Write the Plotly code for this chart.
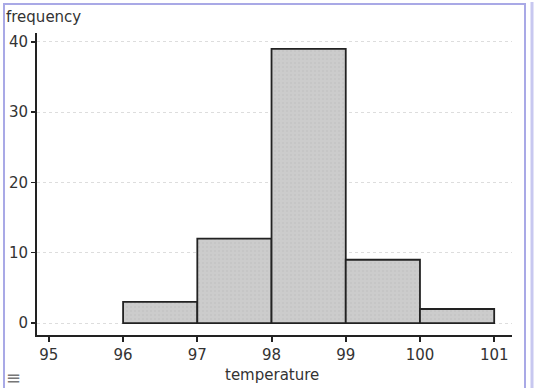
import plotly.graph_objects as go

# Data
bin_starts = [96, 97, 98, 99, 100]
bin_width = 1
counts = [3, 12, 39, 9, 2]
x_ticks = [95, 96, 97, 98, 99, 100, 101]
y_ticks = [0, 10, 20, 30, 40]

W, H = 538, 388
L, R, T, B = 37, 26, 33, 53
pw = W - L - R
ph = H - T - B

centers = [s + bin_width / 2 for s in bin_starts]

fig = go.Figure()
fig.add_trace(go.Bar(
    x=centers, y=counts, width=[bin_width] * len(counts),
    marker=dict(
        color="#cacaca",
        line=dict(color="#222222", width=1.8),
        pattern=dict(shape=".", bgcolor="#cccccc", fgcolor="#bdbdbd", size=4, solidity=0.2),
    ),
    hoverinfo="skip",
))

font = "DejaVu Sans, Verdana, sans-serif"
fig.update_layout(
    width=W, height=H, autosize=False,
    margin=dict(l=L, r=R, t=T, b=B, pad=0, autoexpand=False),
    paper_bgcolor="white", plot_bgcolor="white",
    showlegend=False,
    bargap=0,
    font=dict(family=font, size=15, color="#333"),
    xaxis=dict(
        range=[94.84, 101.24], tickvals=x_ticks, ticktext=[str(v) for v in x_ticks],
        showline=True, linecolor="#222", linewidth=2,
        ticks="outside", ticklen=5, tickwidth=2, tickcolor="#222",
        showgrid=False, zeroline=False, fixedrange=True, automargin=False,
        tickfont=dict(family=font, size=15, color="#333"),
    ),
    yaxis=dict(
        range=[-1.7, 41.25], tickvals=y_ticks, ticktext=[str(v) for v in y_ticks],
        showline=True, linecolor="#222", linewidth=2,
        ticks="outside", ticklen=4, tickwidth=1.5, tickcolor="#222",
        showgrid=True, gridcolor="#dddddd", griddash="dot", gridwidth=1,
        zeroline=False, fixedrange=True, automargin=False,
        tickfont=dict(family=font, size=15, color="#333"),
    ),
    annotations=[
        dict(text="frequency", xref="paper", yref="paper",
             x=(4 - L) / pw, y=(H - B - 17) / ph, xanchor="left", yanchor="middle",
             showarrow=False, font=dict(family=font, size=15, color="#333")),
        dict(text="temperature", xref="paper", yref="paper",
             x=(272 - L) / pw, y=-(375 - (H - B)) / ph, xanchor="center", yanchor="middle",
             showarrow=False, font=dict(family=font, size=15, color="#333")),
        dict(text="≡", xref="paper", yref="paper",
             x=(13 - L) / pw, y=-(377 - (H - B)) / ph, xanchor="center", yanchor="middle",
             showarrow=False, font=dict(family=font, size=18, color="#777")),
    ],
    shapes=[
        dict(type="rect", xref="paper", yref="paper",
             x0=(4 - L) / pw, x1=(525 - L) / pw,
             y0=-(400 - (H - B)) / ph, y1=(H - B - 4) / ph,
             line=dict(color="#a9a9e6", width=2), layer="below"),
        dict(type="line", xref="paper", yref="paper",
             x0=(532 - L) / pw, x1=(532 - L) / pw,
             y0=-(400 - (H - B)) / ph, y1=(H - B - 2) / ph,
             line=dict(color="#c8c8f0", width=3), layer="below"),
    ],
)

fig.write_html(
    "out.html",
    config={"displayModeBar": False, "staticPlot": True},
    post_script="document.body.style.margin='0';document.body.style.overflow='hidden';",
)
